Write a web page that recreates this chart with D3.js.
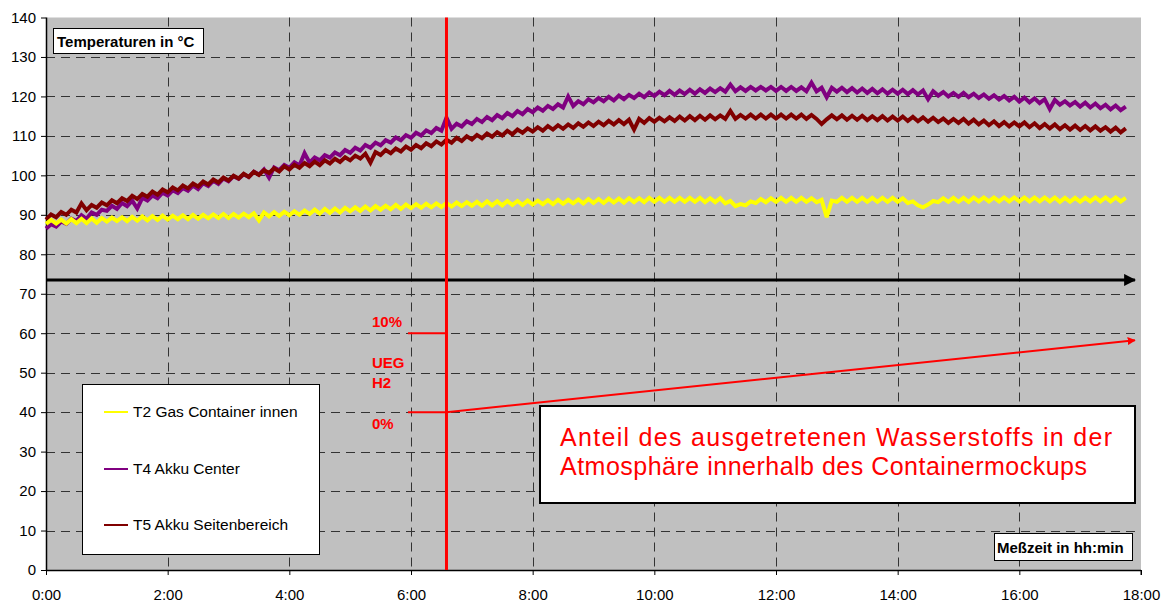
<!DOCTYPE html>
<html><head><meta charset="utf-8">
<script src="https://cdn.jsdelivr.net/npm/d3@7"></script>
<style>
html,body{margin:0;padding:0;background:#fff;}
svg{display:block;font-family:"Liberation Sans",Arial,sans-serif;}
</style></head>
<body>
<svg id="chart" width="1170" height="605"></svg>
<script>
// ---- data (5-minute samples) ----
const sampleMinutes = d3.range(0, 1066, 5); // 0:00 .. 17:45
const seriesNames = ["T2 Gas Container innen", "T4 Akku Center", "T5 Akku Seitenbereich"];
const seriesColors = ["#ffff00", "#800080", "#800000"];
const t2Values = [
 87.7,88.7,87.8,88.8,87.8,88.9,87.9,89.0,87.9,89.1,88.0,89.2,
 88.3,89.3,88.4,89.4,88.4,89.5,88.5,89.6,88.6,89.7,88.7,89.8,
 88.8,89.8,88.9,89.9,88.9,90.0,89.0,90.0,89.1,90.1,89.2,90.2,
 89.2,90.2,89.3,90.3,89.4,90.4,88.6,90.6,89.6,90.7,89.7,90.8,
 89.9,90.9,90.0,91.1,90.2,91.3,90.3,91.5,90.5,91.6,90.6,91.8,
 90.9,91.9,91.0,92.1,91.1,92.2,91.3,92.3,91.4,92.5,91.5,92.6,
 91.7,92.7,91.8,92.8,91.9,92.9,92.0,93.0,92.1,93.1,92.2,93.2,
 92.3,93.3,92.3,93.4,92.4,93.4,92.4,93.5,92.5,93.5,92.5,93.6,
 92.6,93.6,92.7,93.7,92.7,93.8,92.8,93.8,92.9,93.9,92.9,94.0,
 93.0,94.0,93.0,94.1,93.1,94.1,93.1,94.2,93.2,94.2,93.2,94.3,
 93.3,94.3,93.3,94.3,93.3,94.3,93.3,94.3,93.3,94.3,93.2,94.2,
 93.2,94.2,92.9,93.5,92.2,92.7,92.4,93.4,93.0,94.0,93.2,94.2,
 93.3,94.3,93.3,94.3,93.3,94.3,93.3,94.2,93.2,93.8,89.4,93.6,
 93.3,94.3,93.3,94.3,93.3,94.3,93.3,94.3,93.3,94.3,93.3,94.3,
 93.3,94.2,93.0,93.4,92.4,91.9,92.6,93.5,93.2,94.2,93.3,94.3,
 93.3,94.3,93.3,94.4,93.4,94.4,93.4,94.4,93.4,94.4,93.4,94.4,
 93.4,94.4,93.4,94.4,93.4,94.4,93.4,94.4,93.3,94.3,93.3,94.3,
 93.3,94.3,93.4,94.4,93.4,94.4,93.4,94.4,93.4,94.3
];
const t4Values = [
 86.5,87.6,87.0,88.3,87.7,89.0,88.4,89.9,89.0,90.6,90.0,91.3,
 91.0,92.3,91.5,93.0,92.2,93.6,91.6,94.3,93.6,94.9,94.2,95.6,
 94.9,96.2,95.5,96.8,96.1,97.4,96.5,98.0,97.3,98.6,97.8,99.2,
 98.5,99.8,99.1,100.3,99.6,100.9,100.2,101.5,99.4,102.0,101.3,102.6,
 101.9,103.3,102.5,105.6,103.2,104.5,103.8,105.1,104.5,105.8,105.1,106.4,
 105.7,107.0,106.3,107.7,107.0,108.3,107.6,108.9,108.3,109.6,108.9,110.2,
 109.5,110.8,110.1,111.4,110.7,112.0,111.3,114.6,111.8,113.1,112.4,113.7,
 113.0,114.3,113.5,114.8,114.0,115.3,114.5,115.8,115.0,116.3,115.5,116.8,
 116.0,117.2,116.4,117.6,116.8,118.0,117.2,120.0,117.6,118.8,118.0,119.3,
 118.5,119.6,118.8,119.9,119.0,120.2,119.3,120.4,119.6,120.7,119.8,121.0,
 120.1,121.2,120.3,121.4,120.4,121.5,120.6,121.7,120.7,121.8,120.9,122.0,
 121.1,122.1,121.2,123.0,121.3,122.3,121.4,122.4,121.5,122.4,121.5,122.4,
 121.4,122.4,121.4,122.4,121.4,122.3,121.3,123.5,121.3,122.2,119.8,122.2,
 121.2,122.2,121.1,122.1,121.0,122.0,120.9,121.9,120.8,121.8,120.7,121.7,
 120.7,121.7,120.6,121.6,120.5,121.5,119.3,121.3,120.2,121.1,120.0,120.9,
 119.9,120.9,119.8,120.7,119.6,120.5,119.4,120.3,119.2,120.1,119.0,119.9,
 118.7,119.7,118.5,119.5,118.3,119.3,116.8,119.1,117.9,118.8,117.7,118.6,
 117.4,118.4,117.2,118.2,117.0,117.9,116.7,117.7,116.5,117.4
];
const t5Values = [
 88.8,90.1,89.4,90.7,90.0,91.3,90.6,92.9,91.2,92.5,91.8,93.1,
 92.4,93.7,92.95,94.2,93.5,94.8,94.0,95.3,94.6,95.9,95.1,96.4,
 95.7,96.95,96.2,97.45,96.7,97.95,97.2,98.45,97.7,98.95,98.2,99.45,
 98.7,99.9,99.2,100.4,99.6,100.9,100.1,101.3,100.6,101.8,101.0,102.3,
 101.5,102.7,101.9,103.1,102.3,103.5,102.6,103.8,103.0,104.2,103.4,104.6,
 103.8,105.0,104.25,105.5,103.2,105.9,105.15,106.4,105.6,106.8,106.05,107.3,
 106.5,107.7,106.9,108.15,107.4,108.6,107.8,109.0,108.25,109.5,108.7,109.9,
 109.1,110.25,109.4,110.6,109.8,110.9,110.1,111.3,110.4,111.6,110.8,111.9,
 111.1,112.2,111.3,112.5,111.6,112.7,111.8,112.9,112.0,113.2,112.3,113.4,
 112.5,113.6,112.7,113.8,112.9,114.0,113.0,114.1,111.6,114.3,113.3,114.5,
 113.6,114.6,113.7,114.7,113.8,114.9,113.9,115.0,114.0,115.1,114.1,115.2,
 114.2,115.2,114.3,116.3,114.3,115.3,114.4,115.4,114.4,115.4,114.4,115.4,
 114.4,115.4,114.4,115.4,114.4,115.4,114.3,115.3,114.3,113.0,114.2,115.2,
 114.2,115.2,114.1,115.1,114.1,115.1,114.0,115.0,114.0,115.0,113.9,114.9,
 113.9,114.9,113.8,114.8,113.7,114.7,113.6,114.6,113.5,114.4,113.3,114.3,
 113.3,114.3,113.1,114.1,112.9,113.9,112.7,113.7,112.5,113.5,112.4,113.4,
 112.4,113.4,112.2,113.2,112.0,113.0,111.9,112.9,111.7,112.7,111.6,112.6,
 111.5,112.5,111.4,112.4,111.3,112.2,111.1,112.1,110.9,111.9
];
const xTickMinutes = [0,120,240,360,480,600,720,840,960,1080];
const yTickValues = [0,10,20,30,40,50,60,70,80,90,100,110,120,130,140];
// annotations (in data units)
const markerMinute = 395;          // red vertical line (~6:35)
const uegTickStartMinute = 357;    // start of 10% / 0% marks
const uegHigh = 60, uegLow = 40;
const uegArrowEnd = {minute: 1074, value: 58.2};
const blackArrow = {value: 73.5, startMinute: 0, endMinute: 1074};

// ---- layout ----
const svg = d3.select("#chart");
const x = d3.scaleLinear().domain([0, 1080]).range([46, 1141]);
const y = d3.scaleLinear().domain([0, 140]).range([570, 17.5]);
const fmt = m => Math.floor(m/60) + ":" + String(m%60).padStart(2,"0");

const defs = svg.append("defs");
function arrowMarker(id, color){
  defs.append("marker").attr("id", id).attr("viewBox","0 0 10 10")
    .attr("refX", 9).attr("refY", 5).attr("markerWidth", 4).attr("markerHeight", 4)
    .attr("markerUnits","strokeWidth").attr("orient","auto")
    .append("path").attr("d","M0,0 L10,5 L0,10 z").attr("fill", color);
}
arrowMarker("arrRed", "#ff0000");
arrowMarker("arrBlack", "#000000");

// plot background
svg.append("rect").attr("x", x(0)).attr("y", y(140))
  .attr("width", x(1080)-x(0)).attr("height", y(0)-y(140)).attr("fill", "#c0c0c0");

// gridlines
const grid = svg.append("g").attr("stroke", "#333").attr("stroke-width", 1).attr("stroke-dasharray", "9,6");
yTickValues.filter(v => v > 0 && v < 140).forEach(v => {
  grid.append("line").attr("x1", x(0)).attr("x2", x(1080)).attr("y1", Math.round(y(v))+0.5).attr("y2", Math.round(y(v))+0.5);
});
xTickMinutes.filter(m => m > 0 && m < 1080).forEach(m => {
  grid.append("line").attr("y1", y(140)).attr("y2", y(0)).attr("x1", Math.round(x(m))+0.5).attr("x2", Math.round(x(m))+0.5);
});

// axes
const yAxis = svg.append("g").attr("transform", `translate(${x(0)},0)`)
  .call(d3.axisLeft(y).tickValues(yTickValues).tickSize(5).tickPadding(5).tickFormat(d3.format("d")));
const xAxis = svg.append("g").attr("transform", `translate(0,${y(0)})`)
  .call(d3.axisBottom(x).tickValues(xTickMinutes).tickSize(5).tickPadding(14).tickFormat(fmt));
[yAxis, xAxis].forEach(a => {
  a.selectAll("text").attr("font-size", 15).attr("fill", "#000").attr("font-family", '"Liberation Sans",Arial,sans-serif');
  a.select(".domain").attr("stroke", "#000").attr("stroke-width", 1.5);
  a.selectAll(".tick line").attr("stroke", "#000");
});
xAxis.select(".domain").attr("d", `M${x(0)},0.5H${x(1080)}`);
yAxis.select(".domain").attr("d", `M0.5,${y(140)}V${y(0)}`);
svg.append("line").attr("x1", x(1080)).attr("x2", x(1080)).attr("y1", y(0)).attr("y2", y(0)+5).attr("stroke","#000");

// black arrow
svg.append("line").attr("x1", x(blackArrow.startMinute)).attr("x2", x(blackArrow.endMinute))
  .attr("y1", y(blackArrow.value)).attr("y2", y(blackArrow.value))
  .attr("stroke", "#000").attr("stroke-width", 3).attr("marker-end", "url(#arrBlack)");

// series
const allSeries = [t2Values, t4Values, t5Values];
const line = d3.line().x((d,i) => x(sampleMinutes[i])).y(d => y(d));
[1, 2, 0].forEach(k => {
  svg.append("path").datum(allSeries[k]).attr("d", line)
    .attr("fill", "none").attr("stroke", seriesColors[k]).attr("stroke-width", 4)
    .attr("stroke-linejoin", "miter").attr("stroke-miterlimit", 3);
});

// red annotations
svg.append("line").attr("x1", x(markerMinute)).attr("x2", x(markerMinute)).attr("y1", y(140)).attr("y2", y(0))
  .attr("stroke", "#ff0000").attr("stroke-width", 3);
[uegHigh, uegLow].forEach(v => {
  svg.append("line").attr("x1", x(uegTickStartMinute)).attr("x2", x(markerMinute))
    .attr("y1", y(v)).attr("y2", y(v)).attr("stroke", "#ff0000").attr("stroke-width", 2);
});
svg.append("line").attr("x1", x(markerMinute)).attr("y1", y(uegLow))
  .attr("x2", x(uegArrowEnd.minute)).attr("y2", y(uegArrowEnd.value))
  .attr("stroke", "#ff0000").attr("stroke-width", 2).attr("marker-end", "url(#arrRed)");
const redLabels = [["10%", 327], ["UEG", 368], ["H2", 388], ["0%", 429]];
redLabels.forEach(([t, yy]) => {
  svg.append("text").attr("x", 372).attr("y", yy).text(t)
    .attr("font-size", 15).attr("font-weight", "bold").attr("fill", "#ff0000");
});

// title box
svg.append("rect").attr("x", 53.5).attr("y", 28.5).attr("width", 150).attr("height", 25)
  .attr("fill", "#fff").attr("stroke", "#000").attr("stroke-width", 1);
svg.append("text").attr("x", 57).attr("y", 46.5).text("Temperaturen in °C")
  .attr("font-size", 15).attr("font-weight", "bold");

// axis title box
svg.append("rect").attr("x", 994.5).attr("y", 533.5).attr("width", 138).attr("height", 27)
  .attr("fill", "#fff").attr("stroke", "#000").attr("stroke-width", 1);
svg.append("text").attr("x", 997).attr("y", 552.5).text("Meßzeit in hh:min")
  .attr("font-size", 15).attr("font-weight", "bold");

// legend
svg.append("rect").attr("x", 82.5).attr("y", 384.5).attr("width", 237).attr("height", 170)
  .attr("fill", "#fff").attr("stroke", "#000").attr("stroke-width", 1);
const legendY = [412, 469, 525];
seriesNames.forEach((n, i) => {
  svg.append("line").attr("x1", 104).attr("x2", 128).attr("y1", legendY[i]).attr("y2", legendY[i])
    .attr("stroke", seriesColors[i]).attr("stroke-width", 2);
  svg.append("text").attr("x", 133).attr("y", legendY[i] + 5).text(n).attr("font-size", 15.5);
});

// annotation box
svg.append("rect").attr("x", 540).attr("y", 406).attr("width", 595).attr("height", 97)
  .attr("fill", "#fff").attr("stroke", "#000").attr("stroke-width", 2);
svg.append("text").attr("x", 560).attr("y", 446).text("Anteil des ausgetretenen Wasserstoffs in der")
  .attr("font-size", 25).attr("fill", "#ff0000").attr("textLength", 552).attr("lengthAdjust", "spacing");
svg.append("text").attr("x", 560).attr("y", 475).text("Atmosphäre innerhalb des Containermockups")
  .attr("font-size", 25).attr("fill", "#ff0000").attr("textLength", 527).attr("lengthAdjust", "spacing");
</script>
</body></html>
